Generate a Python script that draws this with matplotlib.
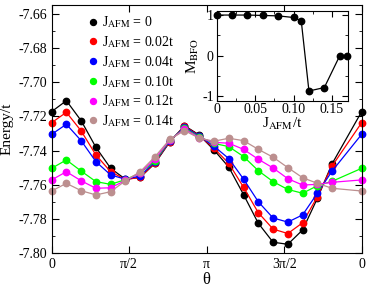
import numpy as np
import matplotlib
matplotlib.use("Agg")
import matplotlib.pyplot as plt
from matplotlib.lines import Line2D
from matplotlib.ticker import MultipleLocator, FixedLocator

plt.rcParams["font.family"] = ["Liberation Serif", "DejaVu Serif"]
plt.rcParams["mathtext.fontset"] = "stix"

# theta grid: steps of 2*pi/21, the step at 20 is not in the data
steps = [0, 1, 2, 3, 4, 5, 6, 7, 8, 9, 10, 11, 12, 13, 14, 15, 16, 17, 18, 19, 21]

e_000 = [-7.7172, -7.7108, -7.7225, -7.7381, -7.7504, -7.7568, -7.7557, -7.7475, -7.7350, -7.7254,
         -7.7309, -7.7397, -7.7497, -7.7658, -7.7826, -7.7937, -7.7949, -7.7865, -7.7680, -7.7477, -7.7172]
e_002 = [-7.7237, -7.7176, -7.7285, -7.7426, -7.7524, -7.7570, -7.7557, -7.7470, -7.7348, -7.7258,
         -7.7312, -7.7387, -7.7475, -7.7615, -7.7764, -7.7860, -7.7886, -7.7823, -7.7670, -7.7490, -7.7237]
e_004 = [-7.7305, -7.7246, -7.7342, -7.7465, -7.7543, -7.7568, -7.7549, -7.7465, -7.7345, -7.7262,
         -7.7315, -7.7375, -7.7447, -7.7567, -7.7700, -7.7795, -7.7819, -7.7777, -7.7650, -7.7520, -7.7305]
e_010 = [-7.7504, -7.7455, -7.7520, -7.7582, -7.7598, -7.7570, -7.7532, -7.7460, -7.7340, -7.7270,
         -7.7320, -7.7358, -7.7377, -7.7435, -7.7518, -7.7582, -7.7628, -7.7650, -7.7606, -7.7580, -7.7504]
e_012 = [-7.7572, -7.7524, -7.7577, -7.7621, -7.7618, -7.7575, -7.7530, -7.7450, -7.7338, -7.7275,
         -7.7324, -7.7352, -7.7357, -7.7393, -7.7451, -7.7502, -7.7565, -7.7602, -7.7598, -7.7586, -7.7572]
e_014 = [-7.7637, -7.7592, -7.7635, -7.7660, -7.7641, -7.7577, -7.7524, -7.7436, -7.7335, -7.7283,
         -7.7328, -7.7345, -7.7328, -7.7342, -7.7393, -7.7439, -7.7500, -7.7559, -7.7592, -7.7621, -7.7637]

series = [e_000, e_002, e_004, e_010, e_012, e_014]
labels = ["0", "0.02t", "0.04t", "0.10t", "0.12t", "0.14t"]
colors = ["black", "red", "blue", "#00ff00", "magenta", "#bc8f8f"]

# inset: M_BFO vs J_AFM
j_afm = [0.0, 0.02, 0.04, 0.06, 0.08, 0.10, 0.11, 0.12, 0.14, 0.16, 0.17]
m_bfo = [1.0, 1.0, 1.0, 0.99, 0.98, 0.94, 0.86, -0.865, -0.78, 0.0, 0.0]

theta = np.array(steps) * 2 * np.pi / 21

fig = plt.figure(figsize=(3.74, 2.89), dpi=100)
ax = fig.add_axes([0.138, 0.1246, 0.829, 0.8584])

for e, c in zip(series, colors):
    ax.plot(theta, e, color=c, marker="o", markersize=4.6, linewidth=0.9, clip_on=False)

ax.set_xlim(0, 2 * np.pi)
ax.set_ylim(-7.80, -7.6547)
ax.set_xticks([0, np.pi / 2, np.pi, 3 * np.pi / 2, 2 * np.pi])
ax.set_xticklabels(["0", "π/2", "π", "3π/2", "0"])
ax.yaxis.set_major_locator(FixedLocator([-7.80, -7.78, -7.76, -7.74, -7.72, -7.70, -7.68, -7.66]))
ax.yaxis.set_minor_locator(MultipleLocator(0.01))
ax.set_yticklabels(["-7.80", "-7.78", "-7.76", "-7.74", "-7.72", "-7.70", "-7.68", "-7.66"])
ax.tick_params(which="both", direction="in", top=True, right=True, labelsize=10)
ax.tick_params(which="major", length=5)
ax.tick_params(which="minor", length=2.5)
ax.set_xlabel("θ", fontsize=12, labelpad=1)
ax.set_ylabel("Energy/t", fontsize=11, labelpad=3)

handles = [Line2D([], [], color=c, marker="o", markersize=4.3, linestyle="none") for c in colors]
ax.legend(handles, ["J$_{\\rm AFM}$ = " + l for l in labels], loc="upper left",
          bbox_to_anchor=(0.09, 1.0), frameon=False, fontsize=10, handlelength=0.6,
          handletextpad=0.3, labelspacing=0.28, borderaxespad=0.3)

ins = fig.add_axes([0.579, 0.652, 0.351, 0.310])
ins.plot(j_afm, m_bfo, color="black", marker="o", markersize=4.6, linewidth=0.9, clip_on=False)
ins.set_xlim(0, 0.1705)
ins.set_ylim(-1.1, 1.1)
ins.set_xticks([0, 0.05, 0.10, 0.15])
ins.set_xticklabels(["0", "0.05", "0.10", "0.15"])
ins.xaxis.set_minor_locator(MultipleLocator(0.025))
ins.set_yticks([-1, 0, 1])
ins.set_yticklabels(["-1", "0", "1"])
ins.yaxis.set_minor_locator(MultipleLocator(0.5))
ins.tick_params(which="both", direction="in", top=True, right=True, labelsize=10, pad=2)
ins.tick_params(which="major", length=4)
ins.tick_params(which="minor", length=2)
ins.set_xlabel("J$_{\\rm AFM}$/t", fontsize=11, labelpad=0)
ins.set_ylabel("M$_{\\rm BFO}$", fontsize=11, labelpad=1)

fig.savefig("out.png", dpi=100)
